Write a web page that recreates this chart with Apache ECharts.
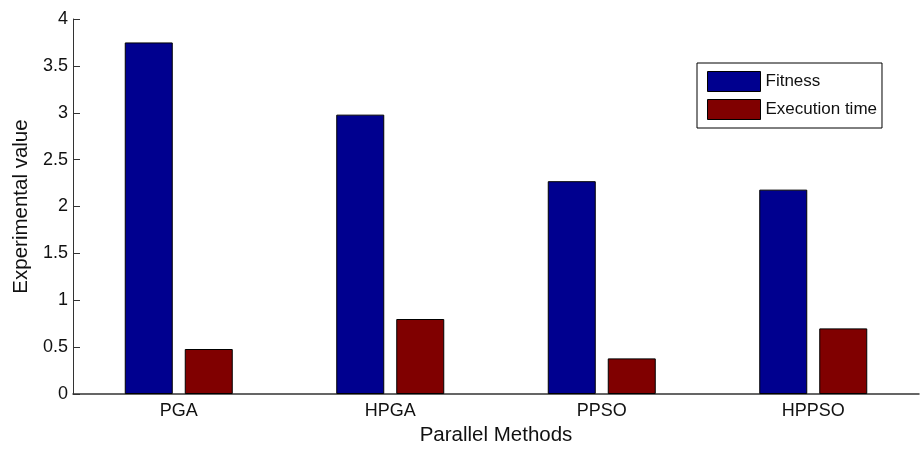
<!DOCTYPE html>
<html>
<head>
<meta charset="utf-8">
<script src="https://cdn.jsdelivr.net/npm/echarts@6/dist/echarts.min.js"></script>
<style>html,body{margin:0;padding:0;background:#fff;}#c{width:922px;height:449px;}</style>
</head>
<body>
<div id="c"></div>
<script>
const categories = ['PGA', 'HPGA', 'PPSO', 'HPPSO'];
const fitness = [3.75, 2.98, 2.27, 2.18];
const execTime = [0.48, 0.80, 0.38, 0.70];
const yTicks = { min: 0, max: 4, interval: 0.5 };

const chart = echarts.init(document.getElementById('c'), null, { renderer: 'canvas' });
const font = 'Liberation Sans, Arial, sans-serif';
chart.setOption({
  animation: false,
  backgroundColor: '#fff',
  textStyle: { fontFamily: font },
  grid: { left: 73, right: 3, top: 19, bottom: 55, containLabel: false, outerBoundsMode: 'none' },
  legend: {
    orient: 'vertical',
    left: 697, top: 63,
    itemWidth: 53, itemHeight: 20, itemGap: 7,
    padding: [8, 5, 8, 10],
    borderColor: '#000', borderWidth: 1,
    textStyle: { fontFamily: font, fontSize: 17, color: '#111' },
    icon: 'rect',
    itemStyle: { borderWidth: 1, borderColor: '#000' },
    data: ['Fitness', 'Execution time']
  },
  xAxis: {
    type: 'category',
    data: categories,
    boundaryGap: true,
    name: 'Parallel Methods',
    nameLocation: 'middle',
    nameGap: 31,
    nameTextStyle: { fontFamily: font, fontSize: 20.5, color: '#111' },
    axisLine: { lineStyle: { color: '#333', width: 1.5 } },
    axisTick: { inside: true, alignWithLabel: true, length: 10, lineStyle: { color: '#555' } },
    axisLabel: { fontFamily: font, fontSize: 18, color: '#111', margin: 8 },
    splitLine: { show: false }
  },
  yAxis: {
    type: 'value',
    min: yTicks.min, max: yTicks.max, interval: yTicks.interval,
    name: 'Experimental value',
    nameLocation: 'middle',
    nameGap: 40,
    nameTextStyle: { fontFamily: font, fontSize: 20.5, color: '#111' },
    axisLine: { show: true, lineStyle: { color: '#333', width: 1 } },
    axisTick: { show: true, inside: true, length: 7, lineStyle: { color: '#333' } },
    axisLabel: { fontFamily: font, fontSize: 18, color: '#111', margin: 5 },
    splitLine: { show: false }
  },
  series: [
    {
      name: 'Fitness', type: 'bar', data: fitness,
      barWidth: 48, barGap: '25%',
      itemStyle: { color: '#00008F', borderColor: '#000', borderWidth: 1 }
    },
    {
      name: 'Execution time', type: 'bar', data: execTime,
      barWidth: 48,
      itemStyle: { color: '#800000', borderColor: '#000', borderWidth: 1 }
    }
  ]
});
</script>
</body>
</html>
